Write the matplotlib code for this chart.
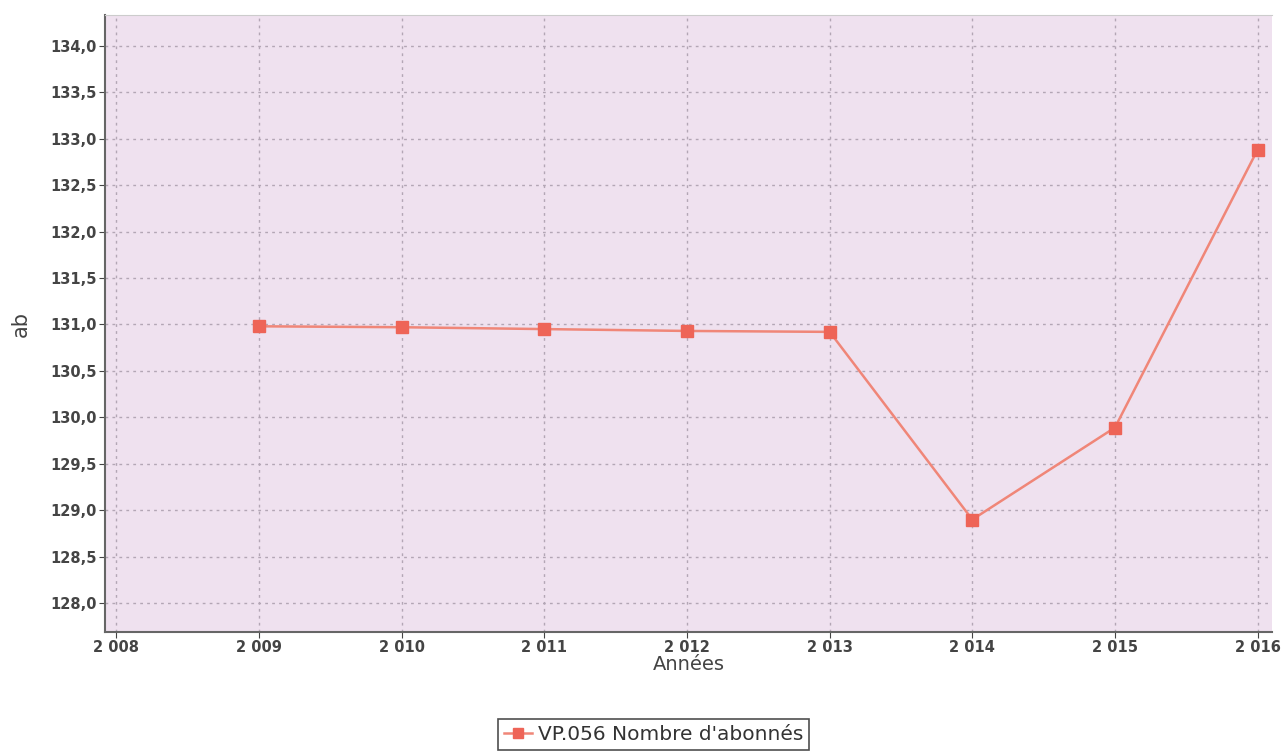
import matplotlib
matplotlib.use("Agg")
import matplotlib.pyplot as plt
from matplotlib.ticker import FuncFormatter

# Data
annees = [2009, 2010, 2011, 2012, 2013, 2014, 2015, 2016]
abonnes = [130.98, 130.97, 130.95, 130.93, 130.92, 128.90, 129.89, 132.88]
serie_label = "VP.056 Nombre d'abonnés"

x_ticks = [2008, 2009, 2010, 2011, 2012, 2013, 2014, 2015, 2016]
y_ticks = [128.0, 128.5, 129.0, 129.5, 130.0, 130.5, 131.0, 131.5, 132.0, 132.5, 133.0, 133.5, 134.0]

plt.rcParams.update({'font.family': 'DejaVu Sans'})

fig = plt.figure(figsize=(12.86, 7.52), dpi=100)
ax = fig.add_axes([0.0817, 0.1596, 0.9073, 0.8204])
ax.set_facecolor('#efe1ef')

ax.plot(annees, abonnes, color='#f08678', lw=1.8, marker='s', markersize=9,
        markerfacecolor='#ee6457', markeredgecolor='#ee6457', label=serie_label, zorder=3)

ax.set_xlim(2007.92, 2016.1)
ax.set_ylim(127.69, 134.33)
ax.set_xticks(x_ticks)
ax.set_yticks(y_ticks)

ax.xaxis.set_major_formatter(FuncFormatter(lambda v, p: f"{int(round(v)):,}".replace(",", " ")))
ax.yaxis.set_major_formatter(FuncFormatter(lambda v, p: f"{v:.1f}".replace(".", ",")))

ax.tick_params(labelsize=10.5, colors='#444444', length=4, pad=2)
for lab in ax.get_xticklabels() + ax.get_yticklabels():
    lab.set_fontweight('bold')

ax.grid(True, linestyle=(0, (2, 3)), color='#b3a6b5', lw=1.0)

ax.spines['right'].set_visible(False)
ax.spines['top'].set_color('#cccccc')
for side in ['left', 'bottom']:
    ax.spines[side].set_color('#666666')
    ax.spines[side].set_linewidth(1.5)

ax.set_xlabel("Années", fontsize=14, color='#444444', labelpad=0)
ax.set_ylabel("ab", fontsize=15, color='#444444', labelpad=14)

leg = ax.legend(loc='upper center', bbox_to_anchor=(0.47, -0.125), fontsize=14.5,
                frameon=True, fancybox=False, handlelength=1.4, handletextpad=0.3,
                borderpad=0.3, markerscale=0.8)
leg.get_frame().set_edgecolor('#222222')
leg.get_frame().set_linewidth(1.2)
for t in leg.get_texts():
    t.set_color('#333333')

fig.savefig("out.png", dpi=100)
